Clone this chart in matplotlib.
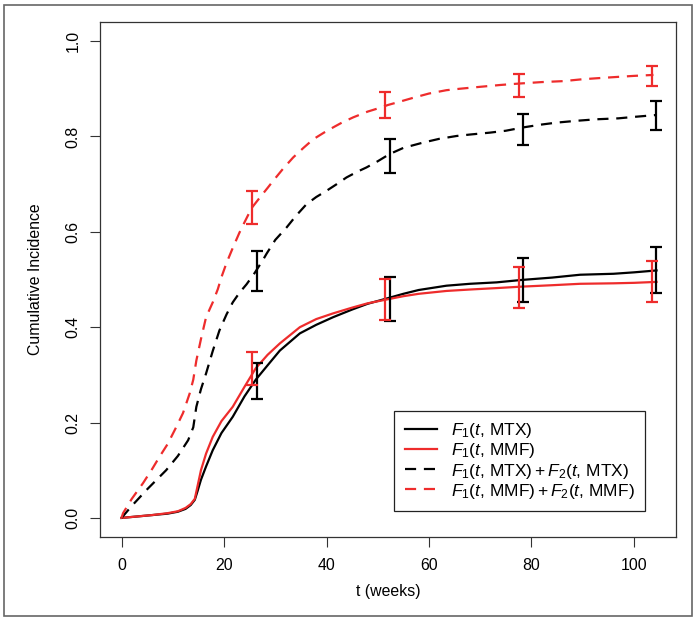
import matplotlib
matplotlib.use("Agg")
import matplotlib.pyplot as plt
from matplotlib.patches import Rectangle
import numpy as np

plt.rcParams['font.family'] = ['Liberation Sans', 'DejaVu Sans']
plt.rcParams['mathtext.fontset'] = 'custom'
plt.rcParams['mathtext.rm'] = 'Liberation Sans'
plt.rcParams['mathtext.it'] = 'Liberation Sans:italic'
plt.rcParams['mathtext.bf'] = 'Liberation Sans:bold'

# ---- data ----
t_f1_mtx = [0, 3, 6, 9, 11, 12.5, 13.5, 14.3, 14.8, 15.5, 16.5, 17.8, 19.5, 21.7, 24, 26.2,
            28.5, 30.9, 34.8, 38, 41.3, 45, 48, 51.7, 55, 58, 63.4, 68, 73.2, 78, 84, 89.5,
            96, 100, 104.4]
f1_mtx = [0, 0.003, 0.006, 0.009, 0.013, 0.019, 0.027, 0.038, 0.055, 0.08, 0.108, 0.142,
          0.178, 0.212, 0.255, 0.29, 0.32, 0.351, 0.387, 0.405, 0.421, 0.437, 0.449, 0.46,
          0.47, 0.478, 0.487, 0.491, 0.494, 0.499, 0.504, 0.51, 0.512, 0.515, 0.519]

t_f1_mmf = [0, 3, 6, 9, 11, 12.5, 13.5, 14.3, 14.8, 15.5, 16.5, 17.8, 19.5, 21.7, 24, 26.2,
            28.5, 30.9, 34.8, 38, 41.3, 45, 48, 51.7, 55, 58, 63.4, 68, 73.2, 78, 84, 89.5,
            96, 100, 104.4]
f1_mmf = [0, 0.003, 0.006, 0.01, 0.014, 0.021, 0.029, 0.04, 0.065, 0.1, 0.135, 0.17, 0.203,
          0.233, 0.275, 0.314, 0.342, 0.366, 0.4, 0.417, 0.429, 0.441, 0.45, 0.458, 0.465,
          0.47, 0.476, 0.479, 0.482, 0.485, 0.488, 0.491, 0.492, 0.493, 0.495]

t_all_mtx = [0, 1.9, 5, 8.7, 11, 13, 14, 14.6, 15.5, 16.5, 17.8, 19.1, 20.5, 21.7, 23, 24.4,
             26, 27.6, 28.3, 30, 32.2, 34, 36.1, 38, 40, 42, 43.9, 46, 47.8, 50, 52.3, 55,
             58.8, 62, 65.4, 68, 71.9, 75, 78.4, 82, 84.9, 89, 92.7, 97, 100, 104.4]
all_mtx = [0, 0.024, 0.06, 0.10, 0.13, 0.163, 0.19, 0.233, 0.27, 0.303, 0.35, 0.393, 0.427,
           0.452, 0.472, 0.49, 0.514, 0.541, 0.554, 0.583, 0.609, 0.633, 0.658, 0.673, 0.686,
           0.7, 0.714, 0.726, 0.735, 0.748, 0.763, 0.776, 0.787, 0.795, 0.801, 0.804, 0.808,
           0.812, 0.819, 0.825, 0.829, 0.833, 0.836, 0.838, 0.841, 0.845]

t_all_mmf = [0, 0.3, 2, 4.2, 6, 7.4, 9, 10.7, 12, 13.3, 14, 14.6, 15.5, 16.5, 17.8, 18.8,
             19.5, 20.5, 21.7, 23, 24, 25.4, 27, 28.5, 29.6, 31.5, 33.5, 35.5, 37.4, 39.5,
             41.3, 43, 45.2, 48, 50.4, 52, 54, 56.9, 60, 63.4, 66, 69.9, 74, 77.7, 82, 86.2,
             90, 92.7, 97, 100, 103.8]
all_mmf = [0, 0.01, 0.04, 0.073, 0.103, 0.128, 0.155, 0.191, 0.22, 0.261, 0.29, 0.33, 0.375,
           0.421, 0.452, 0.48, 0.505, 0.535, 0.566, 0.598, 0.62, 0.65, 0.672, 0.692, 0.707,
           0.732, 0.756, 0.776, 0.794, 0.808, 0.819, 0.829, 0.84, 0.852, 0.86, 0.866, 0.872,
           0.881, 0.89, 0.897, 0.9, 0.904, 0.908, 0.911, 0.914, 0.916, 0.92, 0.922, 0.925,
           0.927, 0.929]

ci_weeks = [26, 52, 78, 104]
f1_mtx_lo = [0.250, 0.414, 0.453, 0.472]
f1_mtx_hi = [0.324, 0.506, 0.545, 0.569]
f1_mmf_lo = [0.278, 0.416, 0.441, 0.452]
f1_mmf_hi = [0.347, 0.501, 0.526, 0.538]
all_mtx_lo = [0.475, 0.724, 0.783, 0.814]
all_mtx_hi = [0.559, 0.794, 0.848, 0.874]
all_mmf_lo = [0.617, 0.838, 0.883, 0.905]
all_mmf_hi = [0.686, 0.893, 0.930, 0.948]

x_ticks = [0, 20, 40, 60, 80, 100]
y_ticks = [0.0, 0.2, 0.4, 0.6, 0.8, 1.0]
y_ticklabels = ["0.0", "0.2", "0.4", "0.6", "0.8", "1.0"]

labels = [r'$F_1(t$, MTX$)$',
          r'$F_1(t$, MMF$)$',
          r'$F_1(t$, MTX$) + F_2(t$, MTX$)$',
          r'$F_1(t$, MMF$) + F_2(t$, MMF$)$']

# ---- style ----
RED = '#EE2C2C'
BLACK = '#000000'
LW = 1.6
DASH = (5, 3.5)
FS = 11.4

fig = plt.figure(figsize=(6.98, 6.21), dpi=100)
ax = fig.add_axes([100 / 698, 1 - 537 / 621, 576 / 698, 515 / 621])

ax.plot(t_f1_mtx, f1_mtx, color=BLACK, lw=LW, label=labels[0])
ax.plot(t_f1_mmf, f1_mmf, color=RED, lw=LW, label=labels[1])
ax.plot(t_all_mtx, all_mtx, color=BLACK, lw=LW, dashes=DASH, label=labels[2])
ax.plot(t_all_mmf, all_mmf, color=RED, lw=LW, dashes=DASH, label=labels[3])

def ci(offset, lo, hi, color):
    lo = np.array(lo); hi = np.array(hi)
    mid = (lo + hi) / 2
    x = np.array(ci_weeks) + offset
    ax.errorbar(x, mid, yerr=[mid - lo, hi - mid], fmt='none', ecolor=color,
                elinewidth=LW, capsize=4, capthick=LW)

ci(0.35, f1_mtx_lo, f1_mtx_hi, BLACK)
ci(-0.5, f1_mmf_lo, f1_mmf_hi, RED)
ci(0.35, all_mtx_lo, all_mtx_hi, BLACK)
ci(-0.5, all_mmf_lo, all_mmf_hi, RED)

ax.set_xlim(-4.2, 108.2)
ax.set_ylim(-0.04, 1.04)
ax.set_xticks(x_ticks)
ax.set_xticklabels([str(v) for v in x_ticks])
ax.set_yticks(y_ticks)
ax.set_yticklabels(y_ticklabels, rotation=90, va='center')
ax.tick_params(axis='both', direction='out', length=7.2, width=0.8, labelsize=FS,
               color='#333333')
ax.tick_params(axis='x', pad=8)
ax.tick_params(axis='y', pad=7)
for s in ax.spines.values():
    s.set_linewidth(0.9)
    s.set_color('#333333')

ax.set_xlabel('t (weeks)', fontsize=FS, labelpad=8)
ax.set_ylabel('Cumulative Incidence', fontsize=FS, labelpad=16)

leg = ax.legend(loc='lower right', bbox_to_anchor=(0.946, 0.0505), fontsize=12.5,
                frameon=True, fancybox=False, edgecolor='#222222', framealpha=1,
                handlelength=1.85, handletextpad=0.8, borderpad=0.6, labelspacing=0.06,
                borderaxespad=0)
leg.get_frame().set_linewidth(0.9)

fig.patches.append(Rectangle((4 / 698, 5 / 621), 688 / 698, 611 / 621,
                             transform=fig.transFigure, fill=False,
                             edgecolor='#666666', linewidth=1.2))

fig.savefig('out.png', dpi=100)
